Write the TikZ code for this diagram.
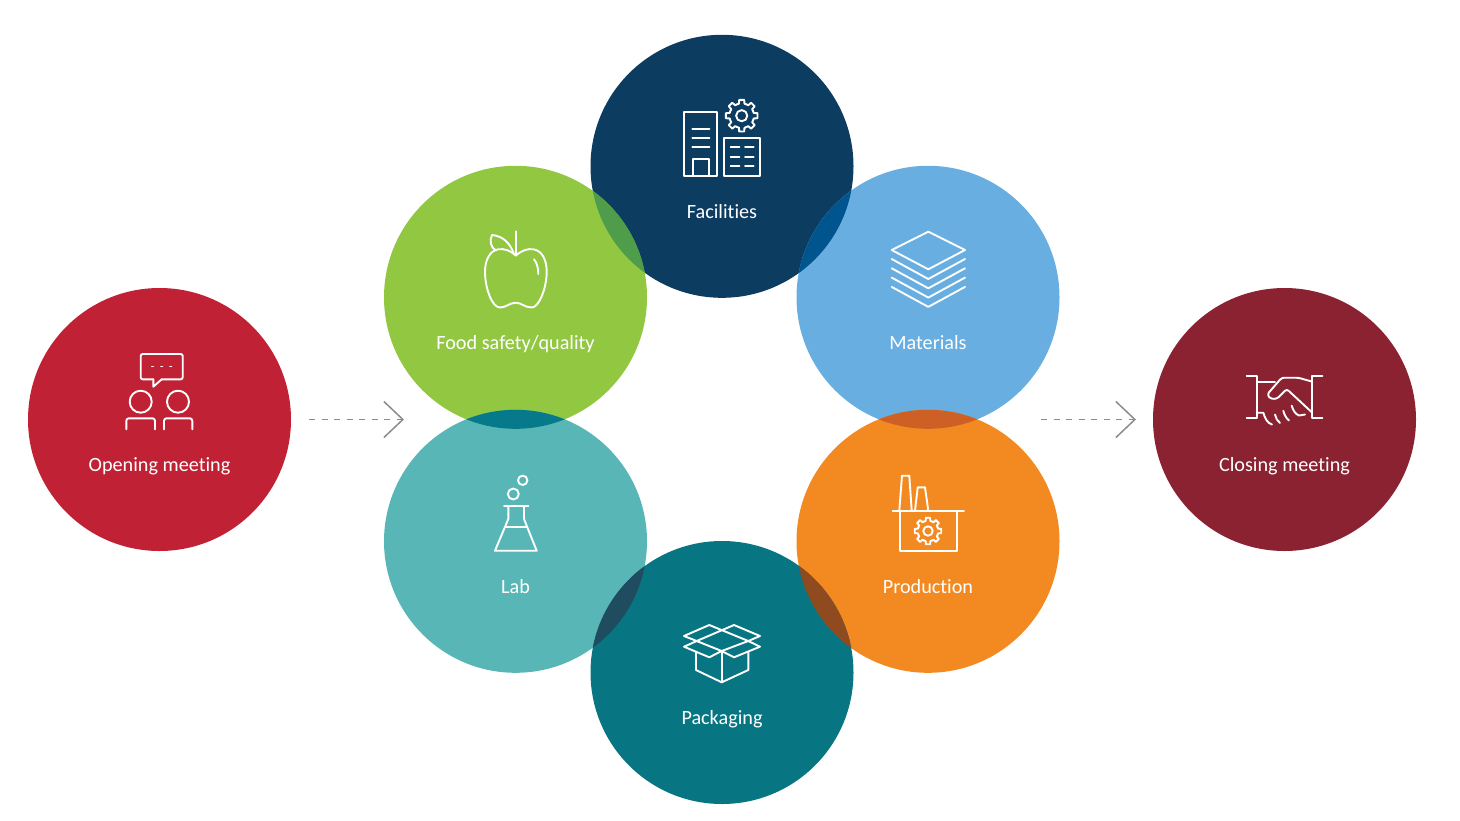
\documentclass[tikz,border=0pt]{standalone}
\usepackage{fontspec}
\setmainfont[Ligatures = NoCommon]{Carlito}
\usetikzlibrary{arrows.meta}
\definecolor{openingred}{HTML}{C02135}
\definecolor{facilitiesblue}{HTML}{0D3C61}
\definecolor{foodgreen}{HTML}{92C742}
\definecolor{materialsblue}{HTML}{68AEE0}
\definecolor{labteal}{HTML}{58B7B6}
\definecolor{productionorange}{HTML}{F28A21}
\definecolor{packagingteal}{HTML}{087682}
\definecolor{closingred}{HTML}{8A2232}
\definecolor{arrowgray}{HTML}{8C8C8C}
\tikzset{
    area/.style = {circle, inner sep = 0pt, minimum size = 263pt},
    caption/.style = {text = white, font = \fontsize{20.2}{22}\selectfont, inner sep = 0pt, anchor = base},
    icon/.style = {draw = white, line width = 1.9pt, line join = round, line cap = round},
    flow/.style = {draw = arrowgray, line width = 0.9pt, dash pattern = on 6pt off 6.5pt,
        -{Straight Barb[length = 19pt, width = 36pt, line width = 1.5pt]}}
}
\newcommand{\cogicon}[3]{
    \begin{scope}[shift = {(#1, #2)}, scale = #3]
        \foreach \a in {0, 45, ..., 315} {
            \draw[icon] ({\a - 22.5}:12.3) -- ({\a - 13}:12.3) -- ({\a - 9}:16) -- ({\a + 9}:16) -- ({\a + 13}:12.3) -- ({\a + 22.5}:12.3);
        }
        \draw[icon] (0, 0) circle (5.6);
    \end{scope}
}
\begin{document}
\begin{tikzpicture}[x = 1pt, y = -1pt]
    \useasboundingbox (0, 0) rectangle (1460, 820);
    % circles
    \node[area, fill = openingred] (opening) at (159.5, 419.5) {};
    \node[area, fill = facilitiesblue] (facilities) at (722, 166.3) {};
    \node[area, fill = foodgreen] (food) at (515.5, 297.3) {};
    \node[area, fill = materialsblue] (materials) at (928, 297.3) {};
    \node[area, fill = labteal] (lab) at (515.5, 541.3) {};
    \node[area, fill = productionorange] (production) at (928, 541.3) {};
    \node[area, fill = packagingteal] (packaging) at (722, 672.5) {};
    \node[area, fill = closingred] (closing) at (1284.5, 419.5) {};
    % overlaps
    \scope
        \clip (facilities) circle (131.5);
        \fill[fill = {rgb,255:red,79;green,157;blue,74}] (food) circle (131.5);
        \fill[fill = {rgb,255:red,1;green,85;blue,143}] (materials) circle (131.5);
    \endscope
    \scope
        \clip (lab) circle (131.5);
        \fill[fill = {rgb,255:red,6;green,122;blue,138}] (food) circle (131.5);
        \fill[fill = {rgb,255:red,31;green,76;blue,94}] (packaging) circle (131.5);
    \endscope
    \scope
        \clip (production) circle (131.5);
        \fill[fill = {rgb,255:red,206;green,95;blue,37}] (materials) circle (131.5);
        \fill[fill = {rgb,255:red,143;green,74;blue,32}] (packaging) circle (131.5);
    \endscope
    % captions
    \node[caption] (openingtext) at (159.5, 471) {Opening meeting};
    \node[caption] (facilitiestext) at (722, 218) {Facilities};
    \node[caption] (foodtext) at (515.5, 349) {Food safety/quality};
    \node[caption] (materialstext) at (928, 349) {Materials};
    \node[caption] (labtext) at (515.5, 593) {Lab};
    \node[caption] (productiontext) at (928, 593) {Production};
    \node[caption] (packagingtext) at (722, 724) {Packaging};
    \node[caption] (closingtext) at (1284.5, 471) {Closing meeting};
    % arrows
    \coordinate (inbegin) at (309, 419.5);
    \coordinate (inend) at (404, 419.5);
    \coordinate (outbegin) at (1041, 419.5);
    \coordinate (outend) at (1136, 419.5);
    \draw[flow] (inbegin) -- (inend);
    \draw[flow] (outbegin) -- (outend);
    % opening icon
    \draw[icon, rounded corners = 2pt] (153.3, 379.3) -- (140.7, 379.3) -- (140.7, 354) -- (182.7, 354) -- (182.7, 379.3) -- (161.7, 379.3);
    \draw[icon] (153.3, 379.3) -- (153.3, 386.7) -- (161.7, 379.3);
    \draw[icon, line width = 1.7pt] (151.9, 366.5) -- (153.3, 366.5) (161, 366.5) -- (162.4, 366.5) (170, 366.5) -- (171.4, 366.5);
    \draw[icon] (140.7, 401.7) circle (11) (178, 401.7) circle (11);
    \draw[icon, rounded corners = 2.5pt] (126.3, 429.3) -- (126.3, 418.3) -- (155, 418.3) -- (155, 429.3);
    \draw[icon, rounded corners = 2.5pt] (164, 429.3) -- (164, 418.3) -- (192.3, 418.3) -- (192.3, 429.3);
    % facilities icon
    \draw[icon] (684, 112.3) rectangle (717.3, 176);
    \draw[icon] (692.3, 128.7) -- (709.3, 128.7) (692.3, 138) -- (709.3, 138) (692.3, 147.3) -- (709.3, 147.3);
    \draw[icon] (692.7, 176) -- (692.7, 159) -- (709.3, 159) -- (709.3, 176);
    \draw[icon] (723.7, 138.3) rectangle (760, 176);
    \foreach \y in {147.3, 156.7, 166} {
        \draw[icon] (730.7, \y) -- (739.3, \y) (745, \y) -- (753.7, \y);
    }
    \cogicon{741.7}{115.7}{1}
    % food icon
    \draw[icon] (515.7, 231.3) -- (515.7, 255);
    \draw[icon] (514, 254) .. controls (510, 243) and (503, 236) .. (492, 235) .. controls (489, 241) and (491, 248) .. (496, 250.5);
    \draw[icon] (515.7, 255.7) .. controls (522, 250) and (528, 248.5) .. (533.3, 249.3)
        .. controls (542, 250.5) and (546.7, 260) .. (546.7, 271.7)
        .. controls (546.7, 288) and (539, 307.5) .. (531.7, 307.5)
        .. controls (525, 307.5) and (521, 302.7) .. (515.7, 302.7)
        .. controls (510, 302.7) and (506, 307.5) .. (500, 307.5)
        .. controls (492, 307.5) and (485, 288) .. (485, 271.7)
        .. controls (485, 260) and (490, 250.5) .. (498.3, 249.3)
        .. controls (504, 248.5) and (510, 250) .. (515.7, 255.7);
    \draw[icon] (534, 259.3) .. controls (537, 263) and (538.3, 268) .. (538.3, 274);
    % materials icon
    \draw[icon] (928.3, 231.7) -- (965, 250) -- (928.3, 269.3) -- (891.7, 250) -- cycle;
    \foreach \y in {0, 9.3, 18.6, 27.9} {
        \draw[icon] (891.7, 259 + \y) -- (928.3, 279 + \y) -- (965, 259 + \y);
    }
    % lab icon
    \draw[icon] (513.3, 494) circle (5.5) (522.7, 480.3) circle (4.7);
    \draw[icon] (504, 506) -- (528.3, 506);
    \draw[icon] (508.3, 506) -- (508.3, 519) -- (495, 550.7) -- (536.7, 550.7) -- (524, 519) -- (524, 506);
    \draw[icon] (506, 527) -- (526.7, 527);
    % production icon
    \draw[icon] (892.7, 510.7) -- (964, 510.7);
    \draw[icon] (900, 510.7) -- (900, 550.7) -- (957.3, 550.7) -- (957.3, 510.7);
    \draw[icon] (899.3, 510.7) -- (902, 475.7) -- (909.3, 475.7) -- (911.7, 510.7);
    \draw[icon] (915, 510.7) -- (917.7, 487.3) -- (925, 487.3) -- (928.3, 510.7);
    \cogicon{928}{531}{0.84}
    % packaging icon
    \draw[icon] (696.7, 641) -- (721.7, 651) -- (748.3, 641);
    \draw[icon] (696.7, 641) -- (684, 636) -- (709.3, 625) -- (748.3, 641) -- (760, 636) -- (734, 625) -- (696.7, 641);
    \draw[icon] (696.7, 641) -- (684, 646.7) -- (709.3, 657.3) -- (721.7, 651) -- (734, 657.3) -- (760, 646.7) -- (748.3, 641);
    \draw[icon] (696, 652.3) -- (696, 670) -- (721.7, 682.3) -- (748.3, 670) -- (748.3, 652.3);
    \draw[icon] (721.7, 651) -- (721.7, 682.3);
    % closing icon
    \draw[icon] (1246.7, 376) -- (1256.7, 376) -- (1256.7, 418.3) -- (1246.7, 418.3);
    \draw[icon] (1322.3, 376) -- (1312.3, 376) -- (1312.3, 418.3) -- (1322.3, 418.3);
    \draw[icon] (1256.7, 382.3) -- (1275, 382.3);
    \draw[icon, rounded corners = 2.5pt] (1312.3, 381.7) -- (1298.3, 377.7) -- (1281.7, 377.7) -- (1267.3, 394.3) -- (1270, 398.5) -- (1276.7, 399) -- (1286.7, 389) -- (1312.3, 412.7);
    \draw[icon] (1256.7, 412.7) -- (1263.3, 412.7) .. controls (1265, 418) and (1267, 423) .. (1272, 424.5);
    \draw[icon] (1275, 414.5) .. controls (1276, 418) and (1277, 421) .. (1280, 423);
    \draw[icon] (1283.3, 410.7) .. controls (1284.5, 415) and (1286, 418) .. (1289, 420.5);
    \draw[icon] (1291.7, 405.7) .. controls (1293, 410) and (1295, 414) .. (1299, 415.5) -- (1305, 414.5);
\end{tikzpicture}
\end{document}
